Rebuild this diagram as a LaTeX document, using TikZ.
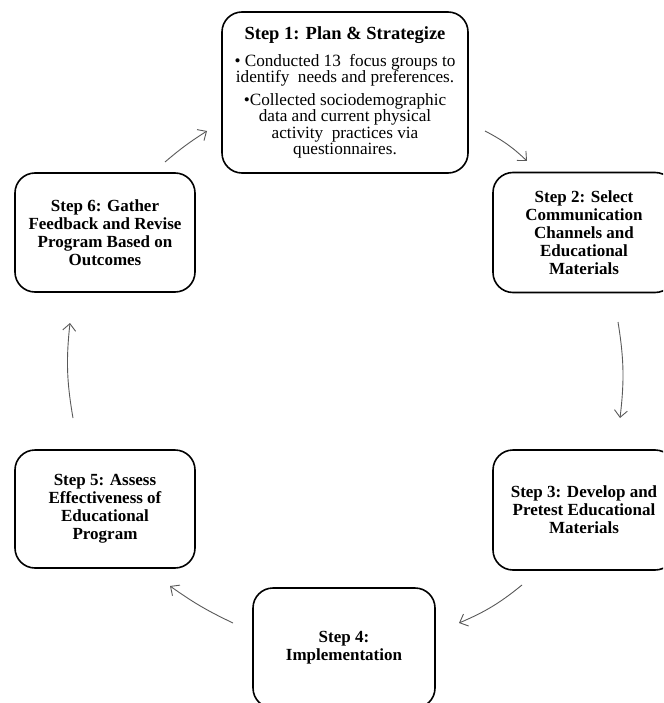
\documentclass[tikz,border=0pt]{standalone}
\usepackage{fontspec}
\setmainfont{Liberation Serif}
\usetikzlibrary{arrows.meta}

\begin{document}
\begin{tikzpicture}[x=1pt,y=-1pt,
    box/.style={draw,line width=1.6pt,rounded corners=20pt,align=center,inner sep=0pt,
        minimum width=182pt,minimum height=120pt,font=\bfseries\fontsize{17}{18}\selectfont},
    cyc/.style={draw=black!65,line width=0.9pt,-{Straight Barb[length=7pt,width=13pt]}}]
    \useasboundingbox (0,0) rectangle (663,703);
    \clip (0,0) rectangle (663,703);

    \node[box,minimum width=246pt,minimum height=161pt,font=\fontsize{17.2}{16.6}\selectfont] (S1) at (345,92.5)
        {\textbf{\fontsize{18.5}{20}\selectfont Step 1: Plan \& Strategize}\\[10.5pt]
         • Conducted 13\ \ focus groups to\\
         identify\ \ needs and preferences.\\[5.5pt]
         •Collected sociodemographic\\
         data and current physical\\
         activity\ \ practices via\\
         questionnaires.};
    \node[box] (S2) at (584,232.5) {Step 2: Select\\Communication\\Channels and\\Educational\\Materials};
    \node[box] (S3) at (584,510) {Step 3: Develop and\\Pretest Educational\\Materials};
    \node[box] (S4) at (344,648) {Step 4:\\Implementation};
    \node[box,minimum width=180pt,minimum height=118pt] (S5) at (105,509) {Step 5: Assess\\Effectiveness of\\Educational\\Program};
    \node[box,minimum width=180pt,minimum height=119pt] (S6) at (105,232.5) {Step 6: Gather\\Feedback and Revise\\Program Based on\\Outcomes};

    % cycle arrows between the boxes
    \coordinate (AR1) at (165,162);
    \coordinate (AR2) at (207,131);
    \coordinate (AR3) at (485,131);
    \coordinate (AR4) at (527,161);
    \coordinate (AR5) at (618,322);
    \coordinate (AR6) at (620,418);
    \coordinate (AR7) at (522,585);
    \coordinate (AR8) at (459,623);
    \coordinate (AR9) at (233,623);
    \coordinate (AR10) at (170,586);
    \coordinate (AR11) at (73,418);
    \coordinate (AR12) at (70,323);

    \draw[cyc] (AR1) to[bend left=4] (AR2);
    \draw[cyc] (AR3) to[bend left=8] (AR4);
    \draw[cyc] (AR5) to[bend left=8] (AR6);
    \draw[cyc] (AR7) to[bend left=8] (AR8);
    \draw[cyc] (AR9) to[bend left=5] (AR10);
    \draw[cyc] (AR11) to[bend left=8] (AR12);
\end{tikzpicture}
\end{document}
